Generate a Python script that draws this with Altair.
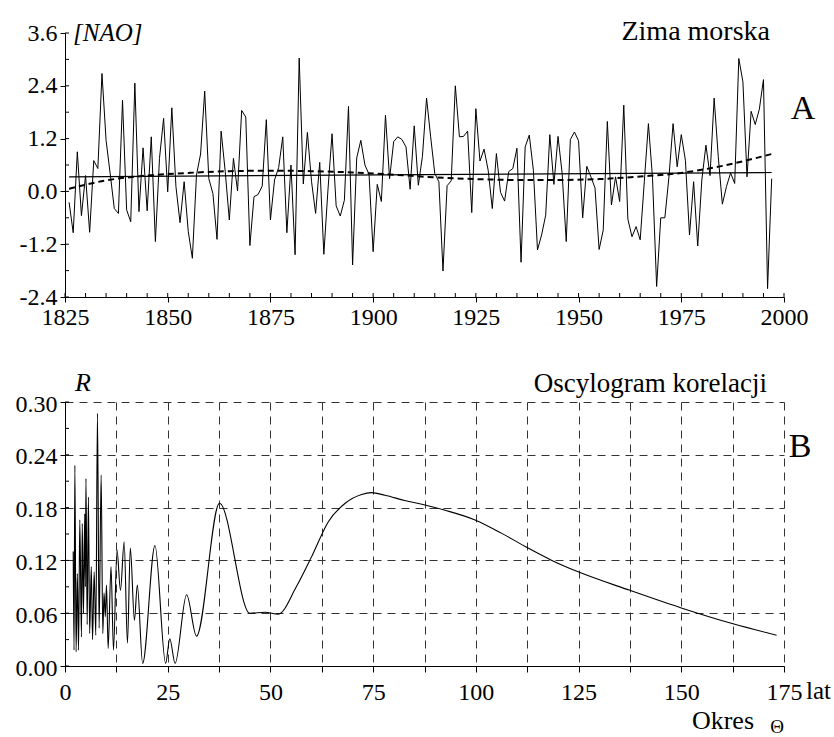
import altair as alt
import pandas as pd

FONT = "Liberation Serif, Times New Roman, serif"
W, H = 719, 264

# ---------------- Panel A data: winter NAO index ----------------
years = list(range(1826, 1998))
nao = [
    -0.25, -0.94, 0.90, -0.55, 0.36, -0.93, 0.70, 0.52, 2.68, 1.16,
    0.40, -0.39, -0.50, 2.07, -0.42, -0.69, 2.46, -0.46, 0.99, -0.44,
    1.24, -1.14, 0.75, 1.66, -0.01, 1.90, 0.11, -0.71, 0.22, -0.91,
    -1.52, 0.37, 0.85, 2.28, 0.29, -0.05, -1.09, 1.37, 0.45, -0.65,
    0.75, 0.01, 1.84, 1.69, -1.23, -0.12, -0.07, 0.12, 1.63, -0.65,
    0.26, 0.54, 1.24, -0.94, 0.60, -1.44, 3.03, 0.17, 1.34, 0.23,
    -0.50, 0.66, -1.43, 0.03, 1.31, -0.33, -0.56, -0.20, 1.93, -1.67,
    0.76, 1.16, 0.60, 0.39, -1.37, 0.16, -0.23, 1.73, 0.29, 1.13,
    1.24, 1.18, 1.01, 0.05, 1.49, 0.14, 0.80, 2.12, 1.24, 0.41,
    0.22, -1.81, 0.13, 0.24, 2.40, 1.24, 1.25, 1.37, -0.48, 1.88,
    0.69, 0.96, 0.48, -0.39, 0.86, -0.02, -0.22, 0.45, 0.52, 0.98,
    -1.61, 1.01, 1.28, 0.48, -1.33, -0.99, -0.54, 1.29, 0.16, 1.25,
    0.41, -1.14, 1.18, 1.35, 1.15, -0.60, 0.57, 0.33, 0.08, -1.32,
    -0.88, 1.59, -0.31, 0.33, -0.23, 1.96, -0.63, -1.03, -0.80, -1.10,
    0.22, 1.54, 0.30, -2.16, -0.60, -0.60, 0.33, 1.54, 0.56, 1.29,
    0.71, -0.99, 0.22, -1.24, 0.26, 1.05, 0.36, 2.12, 0.79, -0.29,
    0.11, 0.42, 0.18, 3.02, 2.49, 0.33, 1.82, 1.52, 1.87, 2.54,
    -2.21, 0.29,
]
lin_years = [1826, 1997]
lin_vals = [0.33, 0.43]
poly_years = [1826, 1835, 1845, 1855, 1865, 1875, 1885, 1895, 1905, 1915,
              1925, 1935, 1945, 1955, 1965, 1975, 1985, 1997]
poly_vals = [0.06, 0.25, 0.36, 0.42, 0.46, 0.47, 0.46, 0.43, 0.38, 0.32,
             0.28, 0.26, 0.26, 0.28, 0.34, 0.42, 0.58, 0.85]
top_x_labels = [1825, 1850, 1875, 1900, 1925, 1950, 1975, 2000]
top_x_minor = list(range(1825, 2001, 5))
top_y_labels = [-2.4, -1.2, 0.0, 1.2, 2.4, 3.6]
top_y_minor = [-2.4, -1.8, -1.2, -0.6, 0.0, 0.6, 1.2, 1.8, 2.4, 3.0, 3.6]

# ---------------- Panel B data: correlation oscillogram ----------------
period = [2.0, 2.2, 2.4, 2.7, 3.0, 3.3, 3.6, 4.0, 4.2, 4.5, 4.8, 4.95, 5.1,
          5.4, 5.7, 6.0, 6.4, 6.7, 7.1, 7.5, 7.9, 8.3, 8.8, 9.2, 9.5, 9.8,
          10.1, 10.5, 11.2, 11.8, 12.65, 13.5, 14.4, 15.2, 15.9, 16.9, 17.6,
          18.9, 21.9, 24.5, 25.5, 26.8, 29.6, 32.0, 37.6, 45.0, 48.7, 51.9,
          56.3, 60.0, 64.1, 68.2, 72.2, 74.6, 77.9, 82.7, 87.6, 92.5, 99.8,
          106.2, 112.7, 118.5, 124.9, 137.5, 150.0, 162.6, 173.2]
corr = [0.130, 0.018, 0.228, 0.016, 0.105, 0.018, 0.166, 0.033, 0.162, 0.060,
        0.173, 0.090, 0.213, 0.047, 0.192, 0.037, 0.113, 0.030, 0.107, 0.035,
        0.287, 0.043, 0.217, 0.037, 0.083, 0.056, 0.092, 0.020, 0.113, 0.018,
        0.132, 0.086, 0.141, 0.026, 0.134, 0.052, 0.092, 0.003, 0.137, 0.003,
        0.031, 0.003, 0.081, 0.034, 0.185, 0.060, 0.061, 0.059, 0.090, 0.124,
        0.164, 0.185, 0.195, 0.197, 0.194, 0.188, 0.183, 0.177, 0.166, 0.151,
        0.134, 0.120, 0.107, 0.086, 0.066, 0.048, 0.035]
bot_x_values = [0, 12.5, 25, 37.5, 50, 62.5, 75, 87.5, 100, 112.5, 125,
                137.5, 150, 162.5, 175]
bot_y_values = [0.0, 0.06, 0.12, 0.18, 0.24, 0.30]
bot_y_minor = [0.0, 0.03, 0.06, 0.09, 0.12, 0.15, 0.18, 0.21, 0.24, 0.27, 0.30]

# ---------------- Panel A ----------------
xs_top = alt.Scale(domain=[1825, 2000], nice=False, zero=False)
ys_top = alt.Scale(domain=[-2.4, 3.6], nice=False, zero=False)

axis_common = dict(
    title=None, labelFont=FONT, labelFontSize=24,
    labelColor="black", domainColor="black", tickColor="black",
    domainWidth=1, tickWidth=1, labelFlush=False, labelOverlap=False,
)

x_axis_top = alt.Axis(values=top_x_labels, format="d", tickSize=5,
                      labelPadding=3, grid=False, **axis_common)
y_axis_top = alt.Axis(
    values=top_y_labels,
    labelExpr="replace(format(datum.value, '.1f'), '\u2212', '-')",
    tickSize=5, labelPadding=3, grid=False, **axis_common)

XT = alt.X("year:Q", scale=xs_top, axis=x_axis_top)
YT = alt.Y("v:Q", scale=ys_top, axis=y_axis_top)

df_nao = pd.DataFrame({"year": years, "v": nao})
df_lin = pd.DataFrame({"year": lin_years, "v": lin_vals})
df_poly = pd.DataFrame({"year": poly_years, "v": poly_vals})

nao_line = alt.Chart(df_nao).mark_line(color="black", strokeWidth=1).encode(
    x=XT, y=YT)
lin_line = alt.Chart(df_lin).mark_line(color="black", strokeWidth=1.2).encode(
    x=XT, y=YT)
poly_line = alt.Chart(df_poly).mark_line(
    color="black", strokeWidth=2, strokeDash=[6, 4], interpolate="monotone"
).encode(x=XT, y=YT)
top_xminor = alt.Chart(pd.DataFrame({"year": top_x_minor})).mark_rule(
    color="black", strokeWidth=1).encode(
    x=XT, y=alt.value(H), y2=alt.value(H - 4))
top_yminor = alt.Chart(pd.DataFrame({"v": top_y_minor})).mark_rule(
    color="black", strokeWidth=1).encode(
    y=YT, x=alt.value(0), x2=alt.value(4))

one = alt.Data(values=[{}])


def label(text, x, y, size, align="left", style="normal", baseline="middle"):
    return alt.Chart(one).mark_text(
        text=text, font=FONT, fontSize=size, align=align, baseline=baseline,
        fontStyle=style, fontWeight="normal", color="black"
    ).encode(x=alt.value(x), y=alt.value(y))


top = alt.layer(
    nao_line, lin_line, poly_line, top_xminor, top_yminor,
    label("[NAO]", 8, 0, 25, style="italic"),
    label("Zima morska", 705, -1, 28, align="right"),
    label("A", 738, 76, 34, align="center"),
).properties(width=W, height=H)

# ---------------- Panel B ----------------
xs_bot = alt.Scale(domain=[0, 175], nice=False, zero=False)
ys_bot = alt.Scale(domain=[0, 0.3], nice=False, zero=False)

grid_common = dict(grid=True, gridColor="#333333", gridDash=[8, 6],
                   gridWidth=1, gridOpacity=1)

x_axis_bot = alt.Axis(
    values=bot_x_values,
    labelExpr="datum.value % 25 == 0 ? format(datum.value, 'd') : ''",
    tickSize=6, labelPadding=8, **axis_common, **grid_common)
y_axis_bot = alt.Axis(values=bot_y_values, format=".2f", tickSize=5,
                      labelPadding=3, labelOffset=2, **axis_common,
                      **grid_common)

XB = alt.X("p:Q", scale=xs_bot, axis=x_axis_bot)
YB = alt.Y("r:Q", scale=ys_bot, axis=y_axis_bot)

df_corr = pd.DataFrame({"p": period, "r": corr})
corr_line = alt.Chart(df_corr).mark_line(
    color="black", strokeWidth=1.1, interpolate="monotone").encode(x=XB, y=YB)
bot_yminor = alt.Chart(pd.DataFrame({"r": bot_y_minor})).mark_rule(
    color="black", strokeWidth=1).encode(
    y=YB, x=alt.value(0), x2=alt.value(4))

bottom = alt.layer(
    corr_line, bot_yminor,
    label("R", 18, -19, 26, align="center", style="italic"),
    label("Oscylogram korelacji", 702, -18, 27, align="right"),
    label("B", 735, 45, 34, align="center"),
    label("lat", 741, 289, 25),
    label("Okres", 689, 319, 26, align="right"),
    label("\u0398", 712, 325, 19, align="center"),
).properties(width=W, height=H)

chart = alt.vconcat(top, bottom, spacing=105, bounds="flush").configure_view(
    stroke=None
).properties(
    padding={"left": 15, "top": 18, "right": 0, "bottom": 0},
    background="white",
)

chart.save("out.html", embed_options={"renderer": "svg", "actions": False})
